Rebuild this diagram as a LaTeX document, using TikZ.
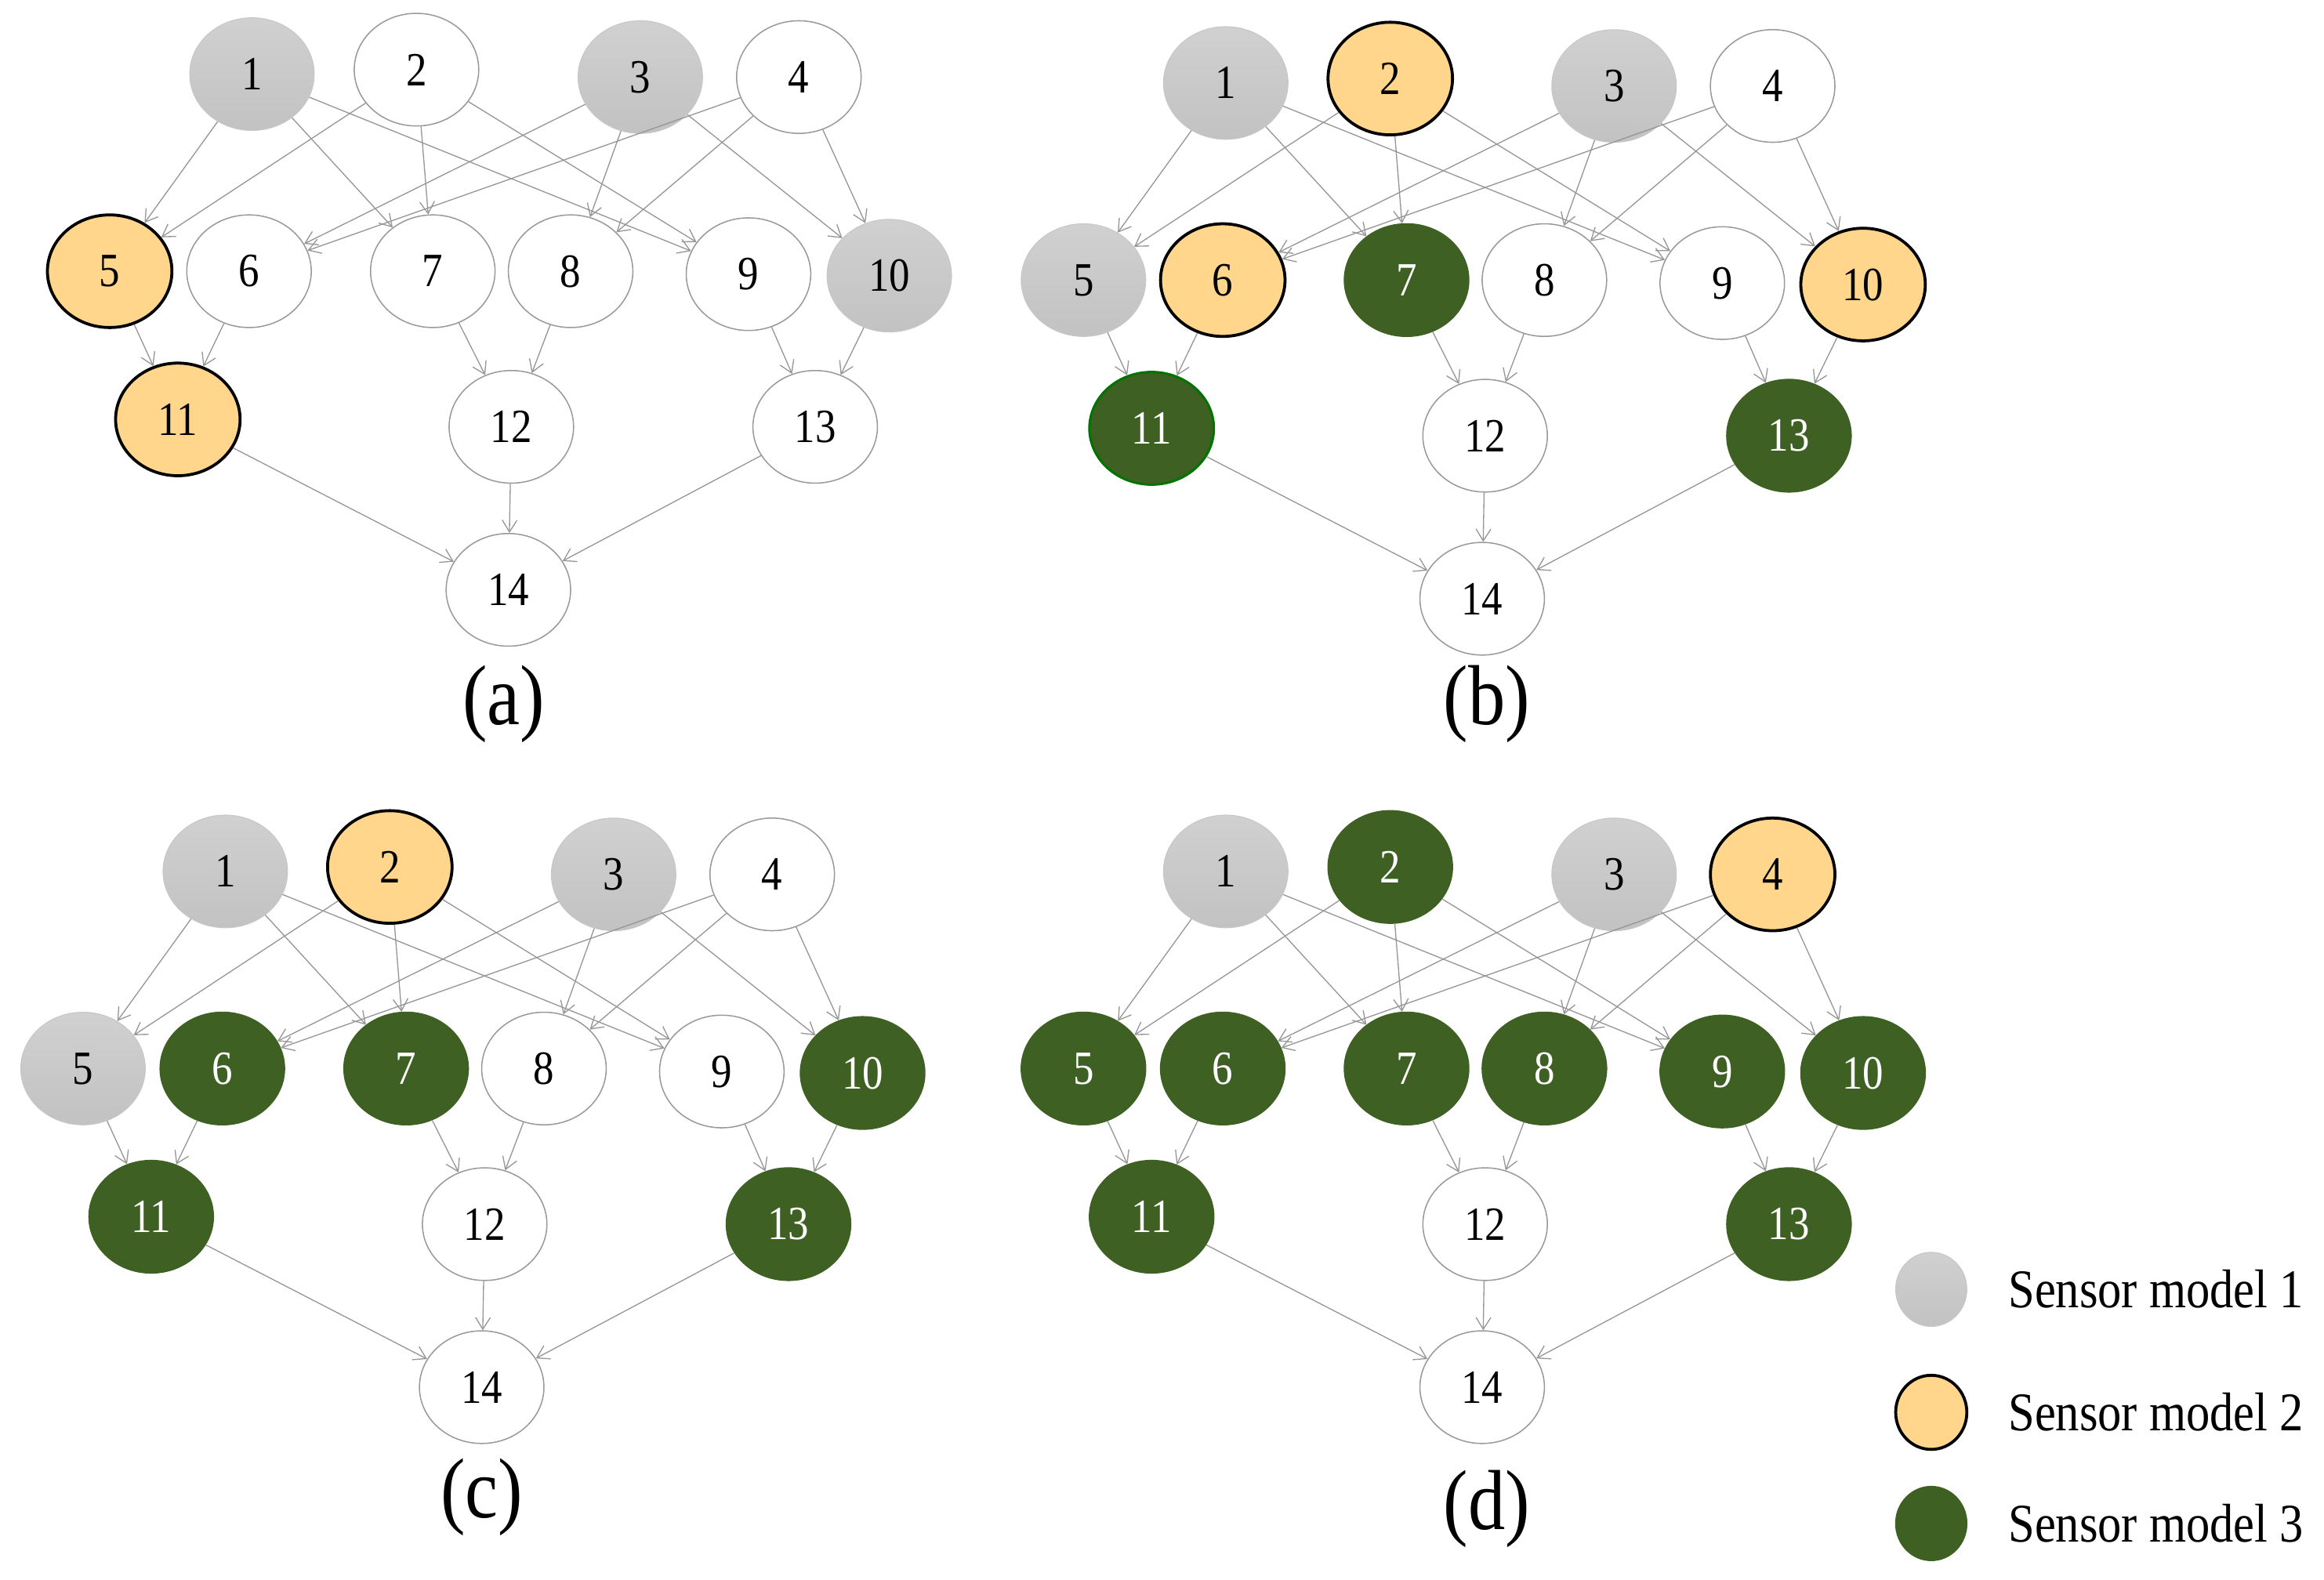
\documentclass[tikz,border=0pt]{standalone}
\usepackage{fontspec}
\setmainfont{Liberation Serif}
\usepackage{graphicx}
\usetikzlibrary{arrows.meta,shapes.geometric}

\definecolor{smgray}{RGB}{200,200,200}
\definecolor{smorange}{RGB}{255,214,140}
\definecolor{smgreen}{RGB}{62,96,35}
\definecolor{linkgray}{RGB}{150,150,150}

% taller letters, as in the scanned figure
\newcommand{\vs}[1]{\scalebox{1}[1.15]{#1}}

\tikzset{
  sensor/.style={ellipse, minimum width=42pt, minimum height=38pt, inner sep=0pt, font=\fontsize{14}{14}\selectfont},
  sm0/.style={sensor, draw=black!40, fill=white, line width=0.4pt},
  sm1/.style={sensor, top color=smgray!85!white, bottom color=smgray!97!black, draw=smgray, line width=0.3pt},
  sm2/.style={sensor, fill=smorange, draw=black, line width=1pt},
  sm3/.style={sensor, fill=smgreen, draw=smgreen, text=white},
  sm4/.style={sm3, draw=green!45!black, line width=0.8pt},
  link/.style={draw=linkgray, line width=0.35pt, -{Straight Barb[length=4pt,width=5pt]}},
  caption/.style={font=\fontsize{25}{25}\selectfont},
  legtext/.style={anchor=west, font=\fontsize{16}{16}\selectfont},
}

% #1 name prefix, #2 shift, #3 sensor models of nodes 1..14, #4 caption position, #5 caption
\newcommand{\sensorgraph}[5]{%
  \begin{scope}[shift={#2}]
    \foreach \m [count=\n] in {#3}{
      \pgfmathsetmacro{\px}{{170,281,432,539,74,168,292,385,505,600,120,345,550,343}[\n-1]}
      \pgfmathsetmacro{\py}{{50,47,52,52,183,183,183,183,185,186,283,288,288,398}[\n-1]}
      \node[sm\m] (#1\n) at (\px,\py) {\vs{\n}};
    }
    \foreach \a/\b in {1/5,1/7,1/9,2/5,2/7,2/9,3/6,3/8,3/10,4/6,4/8,4/10,
                       5/11,6/11,7/12,8/12,9/13,10/13,11/14,12/14,13/14}
      \draw[link] (#1\a) -- (#1\b);
    \node[caption] (#1cap) at #4 {\vs{#5}};
  \end{scope}
}

\begin{document}
\begin{tikzpicture}[x=0.5pt,y=-0.5pt]
  \useasboundingbox (0,0) rectangle (1568,1066);

  % four placements
  \sensorgraph{a}{(0,0)}{1,0,1,0,2,0,0,0,0,1,2,0,0,0}{(340,475)}{(a)}
  \sensorgraph{b}{(657,6)}{1,2,1,0,1,2,3,0,0,2,4,0,3,0}{(346,469)}{(b)}
  \sensorgraph{c}{(-18,538)}{1,2,1,0,1,3,3,0,0,3,3,0,3,0}{(343,472)}{(c)}
  \sensorgraph{d}{(657,538)}{1,3,1,2,3,3,3,3,3,3,3,0,3,0}{(346,480)}{(d)}

  % legend
  \node[sm1, minimum width=24pt, minimum height=25pt] (leg1) at (1303,870) {};
  \node[sm2, minimum width=24pt, minimum height=25pt] (leg2) at (1303,953) {};
  \node[sm3, minimum width=24pt, minimum height=25pt] (leg3) at (1303,1028) {};
  \node[legtext] (legt1) at (1348,870) {\vs{Sensor model 1}};
  \node[legtext] (legt2) at (1348,953) {\vs{Sensor model 2}};
  \node[legtext] (legt3) at (1348,1028) {\vs{Sensor model 3}};
\end{tikzpicture}
\end{document}
